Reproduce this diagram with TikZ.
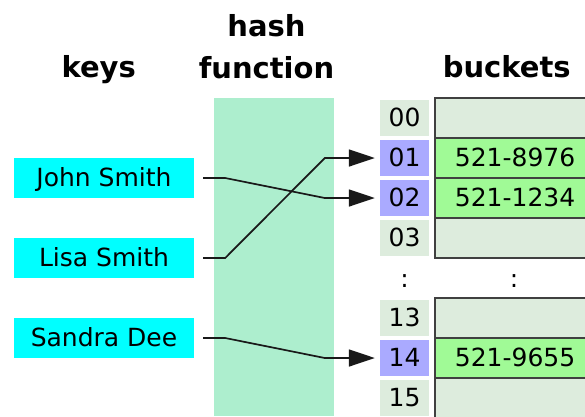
\documentclass[tikz,border=0pt]{standalone}
\usepackage{fontspec}
\setmainfont{DejaVu Sans}
\usetikzlibrary{arrows.meta}
\definecolor{keycyan}{RGB}{0,255,255}
\definecolor{hashgreen}{RGB}{173,238,206}
\definecolor{slotpale}{RGB}{221,236,221}
\definecolor{slotblue}{RGB}{170,170,255}
\definecolor{entrygreen}{RGB}{160,250,150}

\begin{document}
\begin{tikzpicture}[x=1pt,y=-1pt,
        txt/.style={font=\fontsize{25}{30}\selectfont,inner sep=0pt,text height=18pt,text depth=2pt},
        head/.style={font=\fontsize{29}{34}\selectfont\bfseries,inner sep=0pt,anchor=base},
        keybox/.style={txt,fill=keycyan,minimum width=180pt,minimum height=40pt},
        slot/.style={txt,fill=slotpale,minimum width=49pt,minimum height=36pt},
        hitslot/.style={slot,fill=slotblue},
        bucket/.style={txt,anchor=west,fill=slotpale,draw=black!75,line width=2.2pt,minimum width=160pt,minimum height=40pt},
        entry/.style={bucket,fill=entrygreen},
        dots/.style={font=\fontsize{25}{30}\selectfont,inner sep=0pt,anchor=base},
        link/.style={line width=1.7pt,black!90,-{Triangle[length=26pt,width=17pt]}}]
                \useasboundingbox (0,0) rectangle (585,416);
                \clip (0,0) rectangle (585,416);

                \node[head] (keystitle) at (98.7,77.7) {keys};
                \node[head] (hashtitle) at (266.5,36.7) {hash};
                \node[head] (functitle) at (266.5,78) {function};
                \node[head] (buckettitle) at (506.7,77.3) {buckets};

                \fill[hashgreen] (214,98) rectangle (334,416);

                \node[keybox] (john) at (104,178) {John Smith};
                \node[keybox] (lisa) at (104,258) {Lisa Smith};
                \node[keybox] (sandra) at (104,338) {Sandra Dee};

                \node[slot] (i00) at (404.5,118) {00};
                \node[hitslot] (i01) at (404.5,158) {01};
                \node[hitslot] (i02) at (404.5,198) {02};
                \node[slot] (i03) at (404.5,238) {03};
                \node[slot] (i13) at (404.5,318) {13};
                \node[hitslot] (i14) at (404.5,358) {14};
                \node[slot] (i15) at (404.5,398) {15};

                \node[bucket] (b00) at (434,118) {};
                \node[bucket] (b03) at (434,238) {};
                \node[entry] (b01) at (434,158) {521-8976};
                \node[entry] (b02) at (434,198) {521-1234};
                \node[bucket] (b13) at (434,318) {};
                \node[bucket] (b15) at (434,398) {};
                \node[entry] (b14) at (434,358) {521-9655};

                \node[dots] (slotdots) at (404.5,287) {:};
                \node[dots] (bucketdots) at (514,287) {:};

                \draw[link] ([xshift=9pt]john.east) -- ++(22,0) -- ([xshift=-55pt]i02.west) -- ([xshift=-5pt]i02.west);
                \draw[link] ([xshift=9pt]lisa.east) -- ++(22,0) -- ([xshift=-55pt]i01.west) -- ([xshift=-5pt]i01.west);
                \draw[link] ([xshift=9pt]sandra.east) -- ++(22,0) -- ([xshift=-55pt]i14.west) -- ([xshift=-5pt]i14.west);
            \end{tikzpicture}
\end{document}
